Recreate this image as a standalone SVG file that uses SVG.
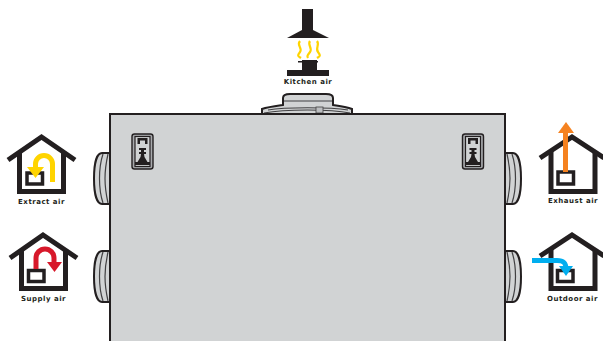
<svg xmlns="http://www.w3.org/2000/svg" width="603" height="341" viewBox="0 0 603 341">
<style>
.house{fill:none;stroke:#231f20;stroke-width:5}
.roof{fill:none;stroke:#231f20;stroke-width:5}
.vent{fill:#fff;stroke:#231f20;stroke-width:3.500}
.lbl{font-family:"DejaVu Sans",Verdana,sans-serif;font-size:7px;font-weight:700;fill:#231f20;text-anchor:middle;letter-spacing:.5px}
.duct{fill:#d1d3d4;stroke:#231f20;stroke-width:2}
.rib{fill:none;stroke:#414042;stroke-width:1.200}
.box{fill:#d1d3d4;stroke:#231f20;stroke-width:2}
.flow{fill:none;stroke-width:5}
.steam{fill:none;stroke:#ffd400;stroke-width:2.200}
</style>
<defs>
<g id="duct-left">
<path class="duct" d="M110 0H102C97 0 94 10 94 25.500S97 51 102 51H110Z"/>
<path class="rib" d="M103 1C100 10 99.500 18 99.500 25.500S100 41 103 50M108 1C106 10 105 18 105 25.500S106 41 108 50"/>
</g>
<g id="duct-right">
<path class="duct" d="M505 0H513C518 0 521 10 521 25.500S518 51 513 51H505Z"/>
<path class="rib" d="M512 1C515 10 515.500 18 515.500 25.500S515 41 512 50M507 1C509 10 510 18 510 25.500S509 41 507 50"/>
</g>
<g id="latch">
<rect x="-10.500" y="-12" width="21" height="35" rx="2.500" fill="#a7a9ac" stroke="#231f20" stroke-width="1.400"/>
<rect x="-7.500" y="-9.500" width="15" height="30" fill="#d1d3d4" stroke="#231f20" stroke-width="1.200"/>
<path d="M-5-8H5V-2H2.500V-5.500H-2.500V-2H-5Z" fill="#231f20"/>
<path d="M-3.500 2H3.500V4H1.500V6H3.500V8H1.500L2 11 5 16H7.500V19H-7.500V16H-5L-2 11-1.500 8H-3.500V6H-1.500V4H-3.500Z" fill="#231f20"/>
</g>
</defs>
<g id="unit">
<use href="#duct-left" y="153"/>
<use href="#duct-left" y="251"/>
<use href="#duct-right" y="153"/>
<use href="#duct-right" y="251"/>
<path class="duct" d="M262 114V109C268 107 276 106 283 105V98C283 95 286 94 290 94H326C330 94 333 95 333 98V105C340 106 347 107 352 109V114Z"/>
<path class="rib" d="M284 101H332M268 110C285 107 330 107 348 110M264 113C285 109 330 109 350 113"/>
<rect x="316" y="107" width="7" height="6" fill="#bcbec0" stroke="#414042" stroke-width=".8"/>
<rect class="box" x="110" y="114" width="395" height="232"/>
<use href="#latch" x="142.500" y="146"/>
<use href="#latch" x="473" y="146"/>
</g>
<g id="kitchen">
<path d="M302 9H313V30L329 38H287L302 30Z" fill="#231f20"/>
<path class="steam" d="M300 41C296 45 303 48 300 52S298 56 301 58M310 41C307 45 313 48 310 52S307 56 308 58M317 41C320 45 315 48 318 52S320 56 317 58"/>
<path d="M302 60H317V70H329V76H287V70H302Z" fill="#231f20"/>
<path d="M298 61H302V62.500H298ZM314 61H318V62.500H314Z" fill="#231f20"/>
<text class="lbl" x="308" y="83.500">Kitchen air</text>
</g>
<g id="extract">
<path class="roof" d="M8 160 41.500 137 75 160"/>
<path class="house" d="M19.500 153V191.500H63.500V153"/>
<rect class="vent" x="27" y="173" width="15.500" height="11"/>
<path class="flow" stroke="#ffd400" d="M52.500 182V164A8.500 8.500 0 0 0 35.500 164V170"/>
<path d="M27 167H44L35.500 178Z" fill="#ffd400"/>
<text class="lbl" x="41.500" y="203.500">Extract air</text>
</g>
<g id="supply">
<path class="roof" d="M10 258 43 235 77 258"/>
<path class="house" d="M21.500 251V288.500H65.500V251"/>
<rect class="vent" x="28.500" y="270.500" width="15.500" height="11"/>
<path class="flow" stroke="#d7182a" d="M36 269V258A9 9 0 0 1 54 258V264"/>
<path d="M47 262H62L54.500 272Z" fill="#d7182a"/>
<text class="lbl" x="43.500" y="300.500">Supply air</text>
</g>
<g id="exhaust">
<path class="roof" d="M540 158 572 137 604 158"/>
<path class="house" d="M551 151V191.500H595V151"/>
<rect class="vent" x="558" y="172" width="15.500" height="12"/>
<path class="flow" stroke="#f58220" d="M565.500 172V131"/>
<path d="M558 133 566 122 574 133Z" fill="#f58220"/>
<text class="lbl" x="573" y="202.500">Exhaust air</text>
</g>
<g id="outdoor">
<path class="roof" d="M540 256 572 235 604 256"/>
<path class="house" d="M551 249V288.500H595V249"/>
<rect class="vent" x="557.500" y="270.500" width="15.500" height="11"/>
<path class="flow" stroke="#00aeef" d="M532 260.500H557C564 260.500 566 263 566 269"/>
<path d="M559 266H573L566 276Z" fill="#00aeef"/>
<text class="lbl" x="572.500" y="300.500">Outdoor air</text>
</g>
</svg>
